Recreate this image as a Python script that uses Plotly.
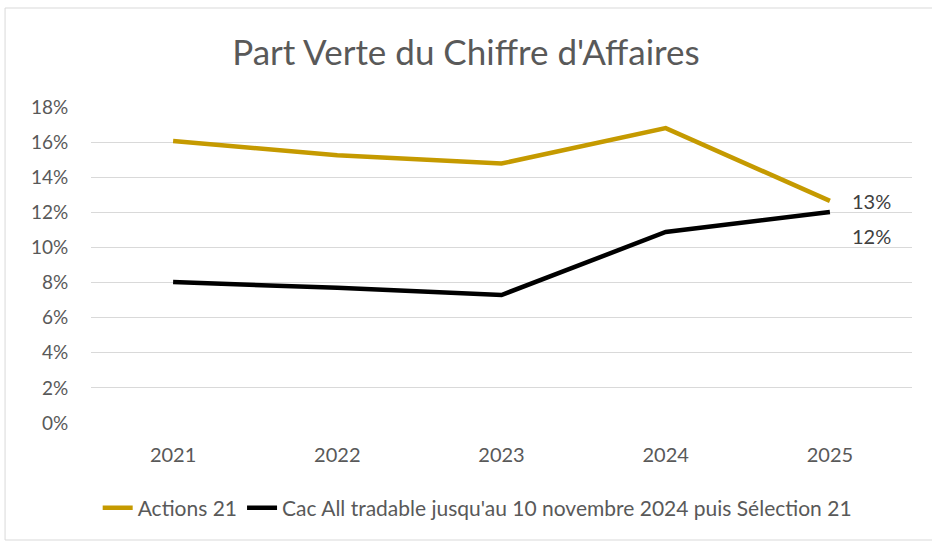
import plotly.graph_objects as go

years = ["2021", "2022", "2023", "2024", "2025"]
actions21 = [0.1606, 0.1525, 0.1478, 0.1680, 0.1265]
cac_all = [0.0803, 0.0770, 0.0729, 0.1088, 0.1202]
series_names = ["Actions 21", "Cac All tradable jusqu'au 10 novembre 2024 puis Sélection 21"]
y_ticks = [0, 0.02, 0.04, 0.06, 0.08, 0.10, 0.12, 0.14, 0.16, 0.18]

GOLD = "#C59A00"
FONT = "Lato, Carlito, Calibri, sans-serif"
GREY = "#595959"

fig = go.Figure()
fig.add_trace(go.Scatter(x=years, y=actions21, mode="lines", name=series_names[0],
                         line=dict(color=GOLD, width=4.5)))
fig.add_trace(go.Scatter(x=years, y=cac_all, mode="lines", name=series_names[1],
                         line=dict(color="#000000", width=4.5)))

last = len(years) - 1
fig.add_annotation(x=last, y=actions21[-1], text=f"{round(actions21[-1]*100):.0f}%",
                   showarrow=False, xanchor="left", xshift=20, yshift=0,
                   font=dict(size=20, color="#404040", family=FONT))
fig.add_annotation(x=last, y=cac_all[-1], text=f"{round(cac_all[-1]*100):.0f}%",
                   showarrow=False, xanchor="left", xshift=20, yshift=-24,
                   font=dict(size=20, color="#404040", family=FONT))

fig.add_shape(type="rect", xref="paper", yref="paper",
              x0=(5 - 91) / 821.5, x1=1.2,
              y0=-(540 - 423) / 316, y1=(423 - 8) / 316,
              line=dict(color="#D9D9D9", width=1), layer="below")

fig.update_layout(
    width=932, height=542,
    paper_bgcolor="white", plot_bgcolor="white",
    margin=dict(l=91, r=20, t=107, b=119),
    title=dict(text="Part Verte du Chiffre d'Affaires", x=0.5, xanchor="center",
               y=1 - 53/542, yanchor="middle",
               font=dict(size=35, color=GREY, family=FONT)),
    font=dict(family=FONT, color=GREY, size=20),
    showlegend=True,
    legend=dict(orientation="h", x=0.512, xanchor="center", xref="container",
                y=(542-508)/542, yanchor="middle", yref="container",
                font=dict(size=21, color=GREY, family=FONT),
                itemwidth=30, tracegroupgap=0),
    xaxis=dict(type="category", range=[-0.5, 4.5], showgrid=False, zeroline=False,
               showline=False, ticks="outside", ticklen=14, tickcolor="rgba(0,0,0,0)",
               tickfont=dict(size=20, color=GREY, family=FONT)),
    yaxis=dict(range=[0, 0.18], tickvals=y_ticks, tickformat=".0%", showgrid=True,
               gridcolor="#D9D9D9", gridwidth=1.3, zeroline=False, showline=False,
               ticks="outside", ticklen=18, tickcolor="rgba(0,0,0,0)",
               tickfont=dict(size=19, color=GREY, family=FONT)),
)

fig.write_html("out.html")
